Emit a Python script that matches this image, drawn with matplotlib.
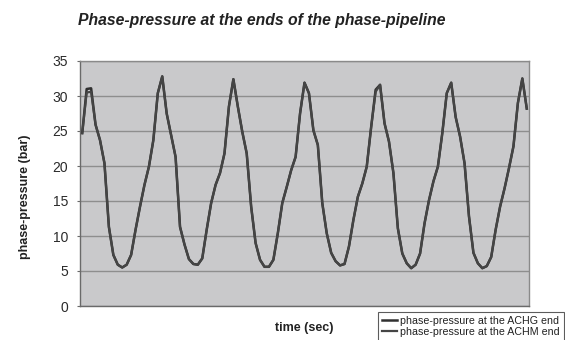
import numpy as np
import matplotlib
matplotlib.use("Agg")
import matplotlib.pyplot as plt

plt.rcParams["font.family"] = ["Liberation Sans", "DejaVu Sans"]

# Phase-pressure samples (bar) at both ends of the pipeline
achg_end = [24.7, 31.0, 31.1, 25.9, 23.7, 20.4, 11.3, 7.3, 5.9, 5.5,
            5.9, 7.3, 10.9, 14.2, 17.3, 19.9, 23.7, 30.4, 32.8, 27.5,
            24.4, 21.3, 11.3, 8.8, 6.7, 6.0, 5.9, 6.8, 10.9, 14.7,
            17.3, 19.0, 21.8, 28.5, 32.4, 28.5, 24.9, 21.8, 14.2, 9.0,
            6.6, 5.6, 5.6, 6.6, 10.4, 14.7, 17.0, 19.4, 21.3, 27.5,
            31.9, 30.4, 25.1, 23.0, 14.7, 10.4, 7.6, 6.4, 5.8, 6.0,
            8.5, 12.3, 15.6, 17.5, 19.9, 25.6, 30.9, 31.6, 26.1, 23.5,
            19.0, 11.1, 7.5, 6.1, 5.4, 5.9, 7.5, 11.8, 15.1, 17.8,
            19.9, 24.7, 30.4, 31.9, 27.0, 24.2, 20.4, 12.8, 7.6, 6.1,
            5.4, 5.7, 7.0, 10.9, 14.2, 16.8, 19.7, 22.8, 29.0, 32.5,
            28.2]
achm_end = [24.7, 30.5, 30.6, 25.9, 23.7, 20.4, 11.3, 7.3, 5.9, 5.5,
            5.9, 7.3, 10.9, 14.2, 17.3, 19.9, 23.7, 30.4, 32.8, 27.5,
            24.4, 21.3, 11.3, 8.8, 6.7, 6.0, 5.9, 6.8, 10.9, 14.7,
            17.3, 19.0, 21.8, 28.5, 32.4, 28.5, 24.9, 21.8, 14.2, 9.0,
            6.6, 5.6, 5.6, 6.6, 10.4, 14.7, 17.0, 19.4, 21.3, 27.5,
            31.9, 30.4, 25.1, 23.0, 14.7, 10.4, 7.6, 6.4, 5.8, 6.0,
            8.5, 12.3, 15.6, 17.5, 19.9, 25.6, 30.6, 31.6, 26.1, 23.5,
            19.0, 11.1, 7.5, 6.1, 5.4, 5.9, 7.5, 11.8, 15.1, 17.8,
            19.9, 24.7, 30.4, 31.9, 27.0, 24.2, 20.4, 12.8, 7.6, 6.1,
            5.4, 5.7, 7.0, 10.9, 14.2, 16.8, 19.7, 22.8, 29.0, 32.5,
            28.2]
y_ticks = [0, 5, 10, 15, 20, 25, 30, 35]
series_labels = ["phase-pressure at the ACHG end",
                 "phase-pressure at the ACHM end"]

t = np.arange(len(achg_end))

fig = plt.figure(figsize=(5.65, 3.40), dpi=100)
ax = fig.add_axes([80 / 565, 1 - 306 / 340, 449 / 565, 245 / 340])
ax.set_facecolor("#c9c9cb")

ax.plot(t, achg_end, color="#303030", lw=1.8, label=series_labels[0], zorder=3)
ax.plot(t, achm_end, color="#454545", lw=1.6, label=series_labels[1], zorder=4)

ax.set_xlim(-0.5, len(t) - 0.5)
ax.set_ylim(0, 35)
ax.set_yticks(y_ticks)
ax.set_xticks([])
ax.yaxis.grid(True, color="#8e8e8e", lw=1.0)
ax.set_axisbelow(True)

for side in ("top", "right"):
    ax.spines[side].set_color("#8a8a8a")
    ax.spines[side].set_linewidth(1.0)
for side in ("left", "bottom"):
    ax.spines[side].set_color("#6a6a6a")
    ax.spines[side].set_linewidth(1.0)

ax.tick_params(axis="y", length=2.5, width=0.8, color="#6a6a6a", pad=6,
               labelsize=10, labelcolor="#2a2a2a")

fig.text(262 / 565, 1 - 21 / 340,
         "Phase-pressure at the ends of the phase-pipeline",
         ha="center", va="center", fontsize=11.3, fontweight="bold",
         fontstyle="italic", color="#222222")
fig.text(25 / 565, 1 - 197 / 340, "phase-pressure (bar)", rotation=90,
         ha="center", va="center", fontsize=9, fontweight="bold",
         color="#222222")
fig.text(304 / 565, 1 - 328 / 340, "time (sec)", ha="center", va="center",
         fontsize=9, fontweight="bold", color="#222222")

leg = fig.legend(loc="upper left", bbox_to_anchor=(378 / 565, 1 - 311.7 / 340),
                 fontsize=7.7, frameon=True, fancybox=False, shadow=False,
                 borderpad=0.4, labelspacing=0.05, handlelength=1.4,
                 handletextpad=0.25, borderaxespad=0)
leg.get_frame().set_edgecolor("#333333")
leg.get_frame().set_linewidth(0.8)
leg.get_frame().set_facecolor("white")
for txt in leg.get_texts():
    txt.set_color("#222222")

fig.savefig("out.png", dpi=100)
